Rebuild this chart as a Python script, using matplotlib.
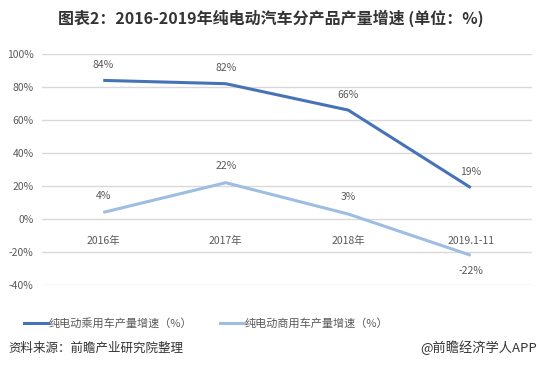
import matplotlib
matplotlib.use("Agg")
import matplotlib.pyplot as plt
from matplotlib.lines import Line2D

plt.rcParams['font.family'] = ['Noto Sans CJK SC', 'DejaVu Sans']

categories = ["2016年", "2017年", "2018年", "2019.1-11"]
passenger = [84, 82, 66, 19]
commercial = [4, 22, 3, -22]
yticks = [-40, -20, 0, 20, 40, 60, 80, 100]
series_names = ["纯电动乘用车产量增速（%）", "纯电动商用车产量增速（%）"]
title = "图表2：2016-2019年纯电动汽车分产品产量增速 (单位：%)"

c_dark = "#4673b8"
c_light = "#9dbde3"
txt = "#595959"

fig = plt.figure(figsize=(5.41, 3.67), dpi=100)
ax = fig.add_axes([42/541, 1-285/367, 490/541, 231/367])
x = list(range(len(categories)))
ax.plot(x, passenger, color=c_dark, lw=2.2, solid_capstyle='butt')
ax.plot(x, commercial, color=c_light, lw=2.2, solid_capstyle='butt')
ax.set_xlim(-0.5, 3.5)
ax.set_ylim(-40, 100)
ax.set_yticks(yticks)
ax.set_yticklabels([f"{v}%" for v in yticks], color=txt, fontsize=7.5)
ax.set_xticks([])
ax.tick_params(axis='y', length=0, pad=6)
for s in ax.spines.values():
    s.set_visible(False)
ax.grid(axis='y', color='#d9d9d9', lw=1)
ax.set_axisbelow(True)

for i, c in enumerate(categories):
    ax.annotate(c, (i, 0), xytext=(0, -16), textcoords='offset points',
                ha='center', va='center', fontsize=7.5, color=txt)
for i, v in enumerate(passenger):
    ax.annotate(f"{v}%", (i, v), xytext=(0, 11), textcoords='offset points',
                ha='center', va='center', fontsize=7.5, color=txt)
for i, v in enumerate(commercial):
    off = -11 if v < 0 else 12
    ax.annotate(f"{v}%", (i, v), xytext=(0, off), textcoords='offset points',
                ha='center', va='center', fontsize=7.5, color=txt)

fig.text(271/541, 1-18/367, title, ha='center', va='center', fontsize=11.5,
         fontweight='bold', color='#333333')

handles = [Line2D([], [], color=c_dark, lw=2.2), Line2D([], [], color=c_light, lw=2.2)]
leg = fig.legend(handles, series_names, loc='center left',
                 bbox_to_anchor=(14/541, 1-323/367), ncol=2, frameon=False,
                 fontsize=8, handlelength=2.2, handletextpad=0.0, columnspacing=2.5,
                 labelcolor=txt)

fig.text(8/541, 1-348/367, "资料来源：前瞻产业研究院整理", ha='left', va='center',
         fontsize=9, color='#333333')
fig.text(537/541, 1-348/367, "@前瞻经济学人APP", ha='right', va='center',
         fontsize=9.5, color='#333333')

fig.savefig("out.png", dpi=100)
